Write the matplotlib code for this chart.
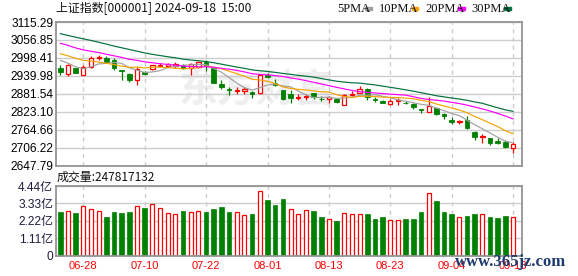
import numpy as np
import pandas as pd
import matplotlib
matplotlib.use('Agg')
import matplotlib.pyplot as plt
from matplotlib.patches import Rectangle

plt.rcParams['font.family'] = ['Noto Sans CJK SC', 'DejaVu Sans']

# daily bars
dates = ['06-25', '06-26', '06-27', '06-28', '07-01', '07-02', '07-03', '07-04', '07-05', '07-08',
         '07-09', '07-10', '07-11', '07-12', '07-15', '07-16', '07-17', '07-18', '07-19', '07-22',
         '07-23', '07-24', '07-25', '07-26', '07-29', '07-30', '07-31', '08-01', '08-02', '08-05',
         '08-06', '08-07', '08-08', '08-09', '08-12', '08-13', '08-14', '08-15', '08-16', '08-19',
         '08-20', '08-21', '08-22', '08-23', '08-26', '08-27', '08-28', '08-29', '08-30', '09-02',
         '09-03', '09-04', '09-05', '09-06', '09-09', '09-10', '09-11', '09-12', '09-13', '09-18']
opens = [2967, 2945, 2965, 2944, 2970, 2997, 2999, 2990, 2959, 2945,
         2926, 2952, 2961, 2972, 2972, 2972, 2975, 2967, 2968, 2986,
         2966, 2914, 2897, 2891, 2892, 2888, 2883, 2943, 2918, 2893,
         2882, 2869, 2870, 2883, 2866, 2865, 2865, 2846, 2879, 2884,
         2898, 2864, 2859, 2847, 2858, 2853, 2848, 2832, 2822, 2835,
         2814, 2795, 2791, 2795, 2757, 2740, 2736, 2726, 2724, 2706]
highs = [2976, 2979, 2967, 2974, 3004, 3007, 3003, 2997, 2960, 2950,
         2968, 2955, 2976, 2981, 2982, 2984, 2978, 2982, 2988, 2990,
         2970, 2927, 2904, 2902, 2904, 2890, 2943, 2949, 2930, 2895,
         2893, 2882, 2880, 2884, 2873, 2875, 2866, 2882, 2889, 2907,
         2900, 2871, 2862, 2865, 2869, 2857, 2851, 2833, 2871, 2838,
         2818, 2805, 2797, 2808, 2759, 2751, 2737, 2737, 2731, 2725]
lows = [2941, 2939, 2948, 2942, 2967, 2990, 2982, 2960, 2925, 2921,
        2909, 2942, 2958, 2969, 2968, 2965, 2962, 2941, 2964, 2955,
        2915, 2898, 2878, 2880, 2881, 2869, 2881, 2932, 2908, 2862,
        2852, 2861, 2862, 2866, 2857, 2852, 2853, 2844, 2873, 2884,
        2862, 2855, 2851, 2846, 2846, 2848, 2832, 2818, 2821, 2813,
        2799, 2783, 2782, 2767, 2730, 2721, 2714, 2719, 2706, 2690]
closes = [2953, 2975, 2950, 2970, 2998, 3000, 2985, 2964, 2955, 2926,
          2962, 2946, 2974, 2976, 2978, 2979, 2965, 2980, 2985, 2972,
          2918, 2903, 2893, 2895, 2896, 2881, 2941, 2937, 2911, 2864,
          2868, 2872, 2873, 2870, 2864, 2870, 2855, 2879, 2882, 2897,
          2872, 2862, 2853, 2859, 2861, 2851, 2838, 2827, 2843, 2815,
          2810, 2790, 2793, 2769, 2741, 2744, 2722, 2720, 2707, 2717]
# volume in 亿 (1e8)
volumes = [2.79, 2.85, 2.74, 3.16, 2.97, 2.85, 2.47, 2.81, 2.74, 2.81,
           3.16, 3.05, 3.29, 3.03, 2.71, 2.64, 2.86, 2.79, 2.85, 2.81,
           2.99, 3.12, 2.81, 2.79, 2.60, 2.67, 4.15, 3.52, 3.20, 3.59,
           3.00, 2.66, 2.92, 2.87, 2.49, 2.36, 2.23, 2.73, 2.66, 2.66,
           2.68, 2.36, 2.49, 2.29, 2.29, 2.36, 2.36, 2.81, 4.02, 3.46,
           2.81, 2.62, 2.47, 2.55, 2.68, 2.66, 2.49, 2.42, 2.55, 2.48]
last_volume = 247817132

# closes before the window (estimated from where the MA lines start)
prior_closes = [3150, 3124, 3126, 3158, 3175, 3162, 3162, 3120, 3093, 3128,
                3114, 3115, 3096, 3091, 3083, 3095, 3069, 3053, 3055, 3032,
                3041, 3033, 3037, 3020, 3034, 3022, 3009, 3002, 2967]

tick_dates = ['06-28', '07-10', '07-22', '08-01', '08-13', '08-23', '09-04', '09-18']
price_ticks = [2647.79, 2706.22, 2764.66, 2823.10, 2881.54, 2939.98, 2998.41, 3056.85, 3115.29]
vol_ticks = [0, 1.11, 2.22, 3.33, 4.44]
vol_labels = ['0', '1.11亿', '2.22亿', '3.33亿', '4.44亿']
ma_windows = [5, 10, 20, 30]
ma_names = ['5PMA', '10PMA', '20PMA', '30PMA']
ma_colors = ['#a0a0a0', '#f5a300', '#ff00ff', '#00703c']

RED = '#ff0000'
GREEN = '#008000'
GRID = '#cccccc'
FRAME = '#949494'
W, H = 578, 276


def rect(l, t, r, b):
    return [l / W, 1 - b / H, (r - l) / W, (b - t) / H]


def fx(x):
    return x / W


def fy(y):
    return 1 - y / H


n = len(dates)
x = np.arange(n)
all_close = pd.Series(prior_closes + closes, dtype=float)
up_day = np.diff(np.array(prior_closes[-1:] + closes)) >= 0
tick_pos = [dates.index(d) for d in tick_dates]

fig = plt.figure(figsize=(W / 100, H / 100), dpi=100)
ax = fig.add_axes(rect(56, 22, 522, 165.5))
axv = fig.add_axes(rect(56, 186, 522, 255.5))

tick_font = ['Liberation Sans', 'Noto Sans CJK SC']
for a in (ax, axv):
    a.set_xlim(-0.56, n + 0.16)
    a.set_xticks(tick_pos)
    a.set_axisbelow(True)
    a.grid(axis='x', color=GRID, lw=1, ls=(0, (3, 3)))
    a.grid(axis='y', color=GRID, lw=1)
    for s in a.spines.values():
        s.set_color(FRAME)
        s.set_linewidth(1.3)
    a.tick_params(length=0, pad=2)

# watermark
ax.text(0.43, 0.52, '东方财富', transform=ax.transAxes, fontsize=28, color='#eeeeee',
        fontweight='bold', style='italic', ha='center', va='center', zorder=0)

# candles
for i in x:
    o, h, l, c = opens[i], highs[i], lows[i], closes[i]
    if c >= o:
        ax.vlines(i, l, h, color=RED, lw=0.9, zorder=2)
        ax.bar(i, max(c - o, 0.8), bottom=o, width=0.56, facecolor='white',
               edgecolor=RED, lw=0.9, zorder=3)
    else:
        ax.vlines(i, l, h, color=GREEN, lw=0.9, zorder=2)
        ax.bar(i, o - c, bottom=c, width=0.6, facecolor=GREEN,
               edgecolor=GREEN, lw=0.6, zorder=3)

for w, col in zip(ma_windows, ma_colors):
    ma = all_close.rolling(w).mean().iloc[len(prior_closes):].values
    ax.plot(x, ma, color=col, lw=0.85, zorder=4)

ax.set_ylim(price_ticks[0], price_ticks[-1])
ax.set_yticks(price_ticks)
ax.set_yticklabels([f'{p:.2f}' for p in price_ticks], fontsize=8.6, family=tick_font)
ax.set_xticklabels([])

# volume
for i in x:
    if up_day[i]:
        axv.bar(i, volumes[i], width=0.52, facecolor='white', edgecolor=RED, lw=0.9)
    else:
        axv.bar(i, volumes[i], width=0.6, facecolor=GREEN, edgecolor=GREEN, lw=0.5)
axv.set_ylim(0, 4.44)
axv.set_yticks(vol_ticks)
axv.set_yticklabels(vol_labels, fontsize=8.6, family=tick_font, color='#1c1c3c')
axv.set_xticklabels(tick_dates, fontsize=8, family=tick_font, color=RED)
axv.tick_params(axis='x', pad=4)

# header texts
fig.text(fx(56), fy(8.5), '上证指数[000001] 2024-09-18  15:00', fontsize=8.6,
         ha='left', va='center', color='#111111')
fig.text(fx(57), fy(177), f'成交量:{last_volume}', fontsize=8.6,
         ha='left', va='center', color='#111111')

legend_x = [337.5, 378.5, 425, 471]
marker_x = [365, 411.5, 458, 504]
for name, col, tx, mx in zip(ma_names, ma_colors, legend_x, marker_x):
    fig.text(fx(tx), fy(8.5), name, fontsize=9, family=['Liberation Serif'],
             ha='left', va='center', color='#111111')
    fig.patches.append(Rectangle((fx(mx), fy(10)), 6.5 / W, 2.6 / H,
                                 transform=fig.transFigure, color=col))

fig.text(fx(455), fy(261.5), 'www.365jz.com', fontsize=12, family=['Liberation Serif'],
         fontweight='bold', color='#1e3a6e', ha='left', va='center', zorder=10)

fig.savefig('out.png', dpi=100)
